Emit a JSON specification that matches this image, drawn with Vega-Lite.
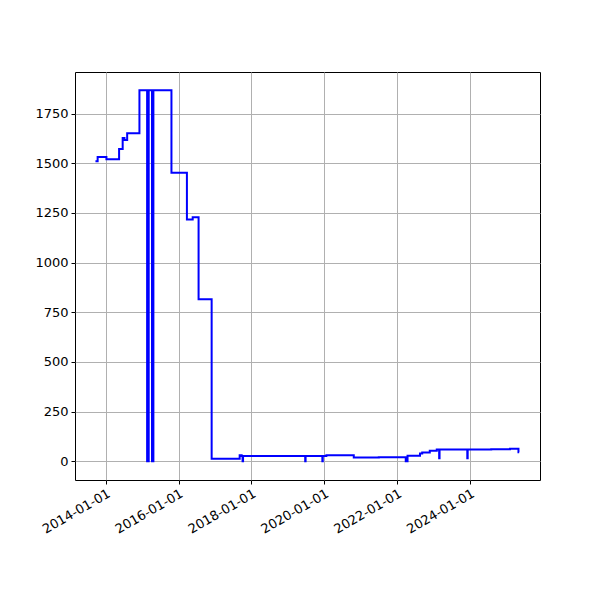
{
  "$schema": "https://vega.github.io/schema/vega-lite/v6.json",
  "width": 465,
  "height": 408,
  "autosize": {"type": "none"},
  "padding": {"left": 75, "top": 72, "right": 60, "bottom": 120},
  "background": "white",
  "config": {
    "view": {"stroke": "black", "strokeWidth": 1},
    "font": "DejaVu Sans",
    "axis": {
      "labelFont": "DejaVu Sans",
      "labelFontSize": 13,
      "labelColor": "black",
      "tickColor": "black",
      "tickSize": 4,
      "tickWidth": 1,
      "labelPadding": 3,
      "domain": false,
      "grid": true,
      "gridColor": "#b0b0b0",
      "gridWidth": 1,
      "title": null
    }
  },
  "data": {
    "values": [
      {"date": "2013-09-20", "value": 1510},
      {"date": "2013-10-12", "value": 1532},
      {"date": "2014-01-08", "value": 1521},
      {"date": "2014-05-15", "value": 1572},
      {"date": "2014-06-20", "value": 1628},
      {"date": "2014-07-08", "value": 1618},
      {"date": "2014-08-04", "value": 1652},
      {"date": "2014-12-05", "value": 1868},
      {"date": "2015-02-20", "value": 0},
      {"date": "2015-03-08", "value": 1868},
      {"date": "2015-04-10", "value": 0},
      {"date": "2015-04-24", "value": 1868},
      {"date": "2015-10-22", "value": 1452},
      {"date": "2016-03-25", "value": 1217},
      {"date": "2016-05-22", "value": 1229},
      {"date": "2016-07-20", "value": 815},
      {"date": "2016-11-28", "value": 12},
      {"date": "2017-09-05", "value": 30},
      {"date": "2017-09-25", "value": 26},
      {"date": "2017-10-04", "value": 0},
      {"date": "2017-10-09", "value": 26},
      {"date": "2019-06-24", "value": 0},
      {"date": "2019-06-28", "value": 26},
      {"date": "2019-12-13", "value": 0},
      {"date": "2019-12-17", "value": 26},
      {"date": "2020-01-22", "value": 30},
      {"date": "2020-10-23", "value": 18},
      {"date": "2021-07-01", "value": 20},
      {"date": "2022-03-28", "value": 0},
      {"date": "2022-04-15", "value": 27},
      {"date": "2022-08-18", "value": 39},
      {"date": "2022-09-09", "value": 44},
      {"date": "2022-11-24", "value": 52},
      {"date": "2023-02-02", "value": 58},
      {"date": "2023-02-26", "value": 15},
      {"date": "2023-03-02", "value": 58},
      {"date": "2023-12-05", "value": 15},
      {"date": "2023-12-09", "value": 58},
      {"date": "2024-08-01", "value": 60},
      {"date": "2025-02-05", "value": 62},
      {"date": "2025-05-01", "value": 45},
      {"date": "2025-05-08", "value": 45}
    ]
  },
  "mark": {"type": "line", "interpolate": "step-after", "color": "#0000ff", "strokeWidth": 2, "clip": true},
  "encoding": {
    "x": {
      "field": "date",
      "type": "temporal",
      "scale": {"type": "utc", "domain": [{"year": 2013, "month": 2, "date": 27, "utc": true}, {"year": 2025, "month": 12, "date": 3, "utc": true}], "nice": false},
      "axis": {
        "values": [
          {"year": 2014, "month": 1, "date": 1, "utc": true},
          {"year": 2016, "month": 1, "date": 1, "utc": true},
          {"year": 2018, "month": 1, "date": 1, "utc": true},
          {"year": 2020, "month": 1, "date": 1, "utc": true},
          {"year": 2022, "month": 1, "date": 1, "utc": true},
          {"year": 2024, "month": 1, "date": 1, "utc": true}
        ],
        "labelExpr": "utcFormat(datum.value, '%Y-%m-%d')",
        "labelAngle": -30,
        "labelAlign": "right",
        "labelBaseline": "top",
        "labelOverlap": false,
        "labelFlush": false
      }
    },
    "y": {
      "field": "value",
      "type": "quantitative",
      "scale": {"domain": [-95, 1960], "nice": false, "zero": false},
      "axis": {"values": [0, 250, 500, 750, 1000, 1250, 1500, 1750], "format": "d", "labelFlush": false, "labelOverlap": false}
    }
  }
}
